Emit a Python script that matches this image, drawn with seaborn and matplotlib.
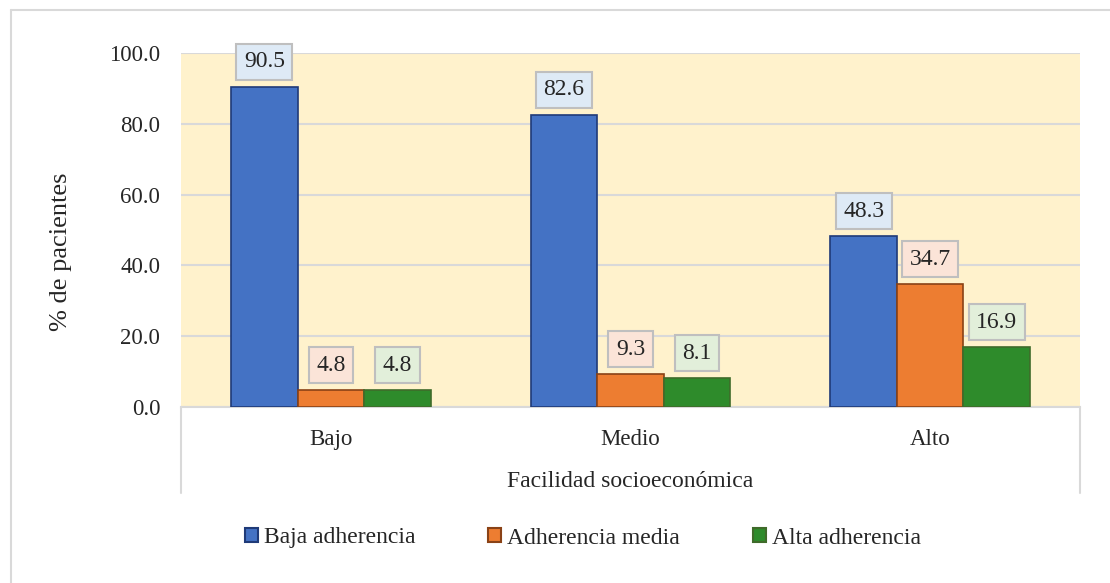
import matplotlib
matplotlib.use("Agg")
import matplotlib.pyplot as plt
from matplotlib.lines import Line2D
from matplotlib.patches import Patch
import seaborn as sns
import pandas as pd

# Data
categories = ["Bajo", "Medio", "Alto"]
series = ["Baja adherencia", "Adherencia media", "Alta adherencia"]
baja = [90.5, 82.6, 48.3]
media = [4.8, 9.3, 34.7]
alta = [4.8, 8.1, 16.9]
y_ticks = [0, 20, 40, 60, 80, 100]

fill_colors = ["#4472C4", "#ED7D31", "#2E8B2B"]
edge_colors = ["#1F3A78", "#8A4216", "#3F6B2A"]
label_bg = ["#DEEAF6", "#FBE4D8", "#E2EFDA"]

df = pd.DataFrame({
    "Facilidad": categories * 3,
    "Grupo": [s for s in series for _ in categories],
    "pct": baja + media + alta,
})

sns.set_theme(style="white")
plt.rcParams["font.family"] = ["Liberation Serif", "DejaVu Serif"]

fig = plt.figure(figsize=(11.10, 5.83), dpi=100)
ax = fig.add_axes([181 / 1110, 1 - 407 / 583, 899 / 1110, 354 / 583])

sns.barplot(data=df, x="Facilidad", y="pct", hue="Grupo", order=categories,
            hue_order=series, palette=fill_colors, width=0.666, ax=ax,
            legend=False, saturation=1)

# Color edges per series
for cont, ec in zip(ax.containers, edge_colors):
    for p in cont.patches:
        p.set_edgecolor(ec)
        p.set_linewidth(1.2)
        p.set_zorder(3)

ax.set_facecolor("#FFF2CC")
ax.set_ylim(0, 100)
ax.set_yticks(y_ticks)
ax.set_yticklabels([f"{v:.1f}" for v in y_ticks], fontsize=16.5)
ax.tick_params(axis="y", length=0, pad=15)
ax.tick_params(axis="x", length=0, pad=16, labelsize=16.5)
ax.grid(axis="y", color="#D9D9D9", linewidth=1.5, zorder=0)
ax.set_axisbelow(True)
for s in ["top", "right", "left"]:
    ax.spines[s].set_visible(False)
ax.spines["bottom"].set_color("#D9D9D9")
ax.spines["bottom"].set_linewidth(1.5)

ax.set_ylabel("% de pacientes", fontsize=19)
ax.yaxis.set_label_coords(-0.121, 0.438)
ax.set_xlabel("Facilidad socioeconómica", fontsize=17, labelpad=15)

# Value labels in boxes above each bar
for cont, bg, vals in zip(ax.containers, label_bg, [baja, media, alta]):
    for p, v in zip(cont.patches, vals):
        ax.annotate(f"{v:.1f}", (p.get_x() + p.get_width() / 2, v),
                    xytext=(0, 25), textcoords="offset pixels",
                    ha="center", va="center", fontsize=17, zorder=5,
                    bbox=dict(boxstyle="square,pad=0.32", fc=bg,
                              ec="#BFBFBF", lw=1.5))

# Frame lines under the category axis
for xf in (0, 1):
    ax.add_line(Line2D([xf, xf], [0, -86 / 354], transform=ax.transAxes,
                       color="#D9D9D9", lw=1.5, clip_on=False))

# Legend
handles = [Patch(facecolor=fc, edgecolor=ec, linewidth=1.5)
           for fc, ec in zip(fill_colors, edge_colors)]
fig.legend(handles, series, loc="center", bbox_to_anchor=(583 / 1110, 1 - 538 / 583),
           ncol=3, frameon=False, fontsize=17, handlelength=0.55,
           handleheight=0.55, handletextpad=0.25, columnspacing=3.1)

# Outer chart border
fig.add_artist(Line2D([11 / 1110, 1.0], [1 - 10 / 583, 1 - 10 / 583],
                      transform=fig.transFigure, color="#D9D9D9", lw=1.5))
fig.add_artist(Line2D([11 / 1110, 11 / 1110], [0, 1 - 10 / 583],
                      transform=fig.transFigure, color="#D9D9D9", lw=1.5))

fig.savefig("out.png", dpi=100)
